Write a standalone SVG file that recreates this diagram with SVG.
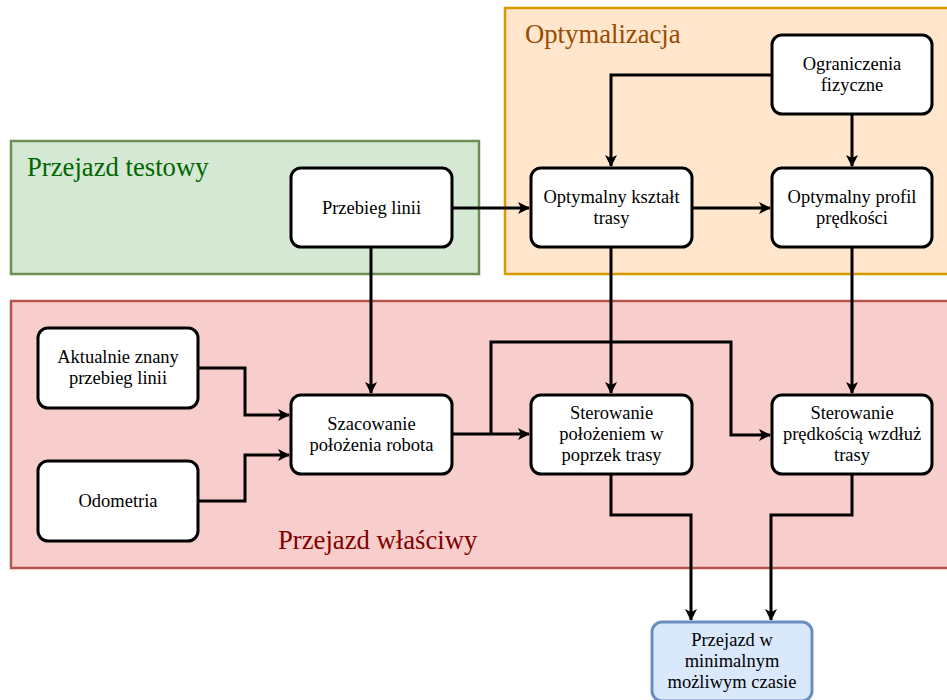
<svg xmlns="http://www.w3.org/2000/svg" width="947" height="700" viewBox="0 0 947 700" font-family="Liberation Serif, Times New Roman, serif">
<style>
.node rect{fill:#fff;stroke:#000;stroke-width:3}
.node text{font-size:18.5px;fill:#000;text-anchor:middle}
.final rect{fill:#dae8fc;stroke:#6c8ebf}
.edge{fill:none;stroke:#000;stroke-width:3}
.grp{font-size:26.7px}
</style>
<defs>
<marker id="ah" viewBox="0 0 12 12" refX="11" refY="6" markerWidth="12" markerHeight="12" markerUnits="userSpaceOnUse" orient="auto">
<path d="M0,0 L12,6 L0,12 L3,6 Z" fill="#000"/>
</marker>
</defs>
<g id="containers">
<g id="grp-testowy">
<rect x="11" y="141" width="468" height="133" fill="#d5e8d4" stroke="#6d8f56" stroke-width="2.5"/>
<text class="grp" x="27" y="176" fill="#006600" font-family="Liberation Serif, serif">Przejazd testowy</text>
</g>
<g id="grp-opt">
<rect x="505" y="8" width="446" height="266" fill="#ffe6cc" stroke="#d79b00" stroke-width="2.5"/>
<text class="grp" x="525" y="43" fill="#994c00" font-family="Liberation Serif, serif">Optymalizacja</text>
</g>
<g id="grp-wlasciwy">
<rect x="11" y="301" width="940" height="267" fill="#f8cecc" stroke="#b85450" stroke-width="2.5"/>
<text class="grp" x="278" y="549" fill="#800000" font-family="Liberation Serif, serif">Przejazd właściwy</text>
</g>
</g>
<g id="connectors">
<path class="edge" d="M452,208 H529" marker-end="url(#ah)"/>
<path class="edge" d="M371,247 V393" marker-end="url(#ah)"/>
<path class="edge" d="M772,75 H611 V166" marker-end="url(#ah)"/>
<path class="edge" d="M852,114 V166" marker-end="url(#ah)"/>
<path class="edge" d="M692,208 H770" marker-end="url(#ah)"/>
<path class="edge" d="M611,247 V393" marker-end="url(#ah)"/>
<path class="edge" d="M852,247 V393" marker-end="url(#ah)"/>
<path class="edge" d="M198,368 H245 V415 H289" marker-end="url(#ah)"/>
<path class="edge" d="M198,501 H245 V455 H289" marker-end="url(#ah)"/>
<path class="edge" d="M452,434 H529" marker-end="url(#ah)"/>
<path class="edge" d="M491,434 V342 H731 V435 H770" marker-end="url(#ah)"/>
<path class="edge" d="M611,474 V515 H691 V620" marker-end="url(#ah)"/>
<path class="edge" d="M852,474 V515 H771 V620" marker-end="url(#ah)"/>
</g>
<g font-family="Liberation Serif, serif">
<g id="n-przebieg" class="node">
<rect x="291" y="168" width="161" height="79" rx="10"/>
<text x="371.5" y="214">Przebieg linii</text>
</g>
<g id="n-ksztalt" class="node">
<rect x="531" y="168" width="161" height="79" rx="10"/>
<text x="611.5" y="203">Optymalny kształt</text>
<text x="611.5" y="224">trasy</text>
</g>
<g id="n-profil" class="node">
<rect x="772" y="168" width="160" height="79" rx="10"/>
<text x="852" y="203">Optymalny profil</text>
<text x="852" y="224">prędkości</text>
</g>
<g id="n-ograniczenia" class="node">
<rect x="772" y="35" width="160" height="79" rx="10"/>
<text x="852" y="70">Ograniczenia</text>
<text x="852" y="91">fizyczne</text>
</g>
<g id="n-aktualnie" class="node">
<rect x="38" y="328" width="160" height="80" rx="10"/>
<text x="118" y="363">Aktualnie znany</text>
<text x="118" y="384">przebieg linii</text>
</g>
<g id="n-odometria" class="node">
<rect x="38" y="461" width="160" height="80" rx="10"/>
<text x="118" y="507">Odometria</text>
</g>
<g id="n-szacowanie" class="node">
<rect x="291" y="395" width="161" height="79" rx="10"/>
<text x="371.5" y="430">Szacowanie</text>
<text x="371.5" y="451">położenia robota</text>
</g>
<g id="n-sterpol" class="node">
<rect x="531" y="395" width="161" height="79" rx="10"/>
<text x="611.5" y="419">Sterowanie</text>
<text x="611.5" y="440">położeniem w</text>
<text x="611.5" y="461">poprzek trasy</text>
</g>
<g id="n-sterpred" class="node">
<rect x="772" y="395" width="160" height="79" rx="10"/>
<text x="852" y="419">Sterowanie</text>
<text x="852" y="440">prędkością wzdłuż</text>
<text x="852" y="461">trasy</text>
</g>
<g id="n-przejazd" class="node final">
<rect x="652" y="622" width="160" height="79" rx="10"/>
<text x="732" y="646">Przejazd w</text>
<text x="732" y="667">minimalnym</text>
<text x="732" y="688">możliwym czasie</text>
</g>
</g>
</svg>
